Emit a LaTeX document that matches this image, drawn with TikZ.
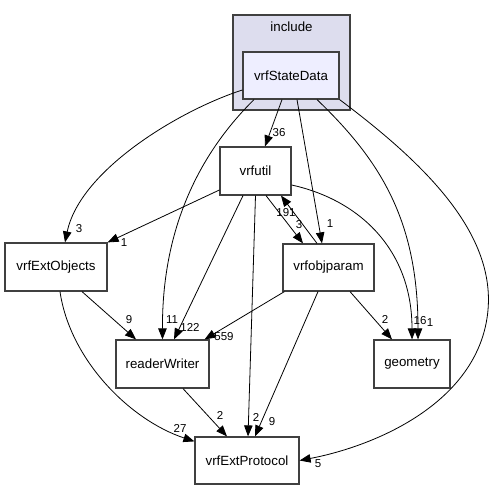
\documentclass[tikz,border=0pt]{standalone}
\usepackage{fontspec}
\setmainfont{Liberation Sans}
\usepackage{xcolor}
\usetikzlibrary{arrows.meta}
\definecolor{clusterfill}{HTML}{DDDDEE}
\definecolor{dirfill}{HTML}{EEEEFF}

\begin{document}
\begin{tikzpicture}[x=1pt,y=-1pt,
        dir/.style={draw=black!75,line width=1.2pt,fill=white,inner sep=0pt,font=\fontsize{13.3}{15}\selectfont},
        dep/.style={-{Triangle[length=11pt,width=8.5pt]},line width=0.8pt},
        lbl/.style={inner sep=0pt,font=\fontsize{11.5}{12}\selectfont}]
        \useasboundingbox (0,0) rectangle (495,489);

        % cluster include
        \node[dir,fill=clusterfill,minimum width=117pt,minimum height=95pt] (include) at (291.5,62.5) {};
        \node[font=\fontsize{13.3}{15}\selectfont] (inclabel) at (291.5,27) {include};
        \node[dir,fill=dirfill,minimum width=96pt,minimum height=47pt] (sd) at (291,75.5) {vrfStateData};

        % directories
        \node[dir,minimum width=71pt,minimum height=48pt] (util) at (255.5,171) {vrfutil};
        \node[dir,minimum width=91pt,minimum height=47pt] (objparam) at (328.5,267.5) {vrfobjparam};
        \node[dir,minimum width=102pt,minimum height=48pt] (extobj) at (56,267) {vrfExtObjects};
        \node[dir,minimum width=93pt,minimum height=48pt] (rw) at (162.5,364) {readerWriter};
        \node[dir,minimum width=76pt,minimum height=48pt] (geom) at (412,364) {geometry};
        \node[dir,minimum width=104pt,minimum height=47pt] (proto) at (247,460.5) {vrfExtProtocol};

        % from vrfStateData
        \draw[dep] ([xshift=-9pt]sd.south) -- ([xshift=9.5pt]util.north) node[lbl] at (279,133) {36};
        \draw[dep] ([yshift=-14.5pt]sd.west) .. controls (180,110) and (80,170) .. ([xshift=9pt]extobj.north) node[lbl] at (79,229) {3};
        \draw[dep] ([xshift=-37pt]sd.south) .. controls (198,155) and (162,230) .. (rw.north) node[lbl] at (172,320) {11};
        \draw[dep] ([xshift=6pt]sd.south) -- ([xshift=-6.5pt]objparam.north) node[lbl] at (330,224) {1};
        \draw[dep] ([xshift=26pt]sd.south) .. controls (380,160) and (418,220) .. ([xshift=6pt]geom.north) node[lbl] at (430,323) {1};
        \draw[dep] (sd.south east) .. controls (420,160) and (495,230) .. (488,310) .. controls (480,400) and (380,445) .. (proto.east) node[lbl] at (318,464) {5};

        % from vrfutil
        \draw[dep] ([yshift=-19pt]util.west) -- (extobj.north east) node[lbl] at (124,243) {1};
        \draw[dep] ([xshift=-12.5pt]util.south) -- ([xshift=11.5pt]rw.north) node[lbl] at (190,327) {122};
        \draw[dep] (util.south) -- ([xshift=1pt]proto.north) node[lbl] at (256,417) {2};
        \draw[dep] ([xshift=10.5pt]util.south) -- ([xshift=-25.5pt]objparam.north) node[lbl] at (299,225) {3};
        \draw[dep] ([yshift=-14pt]util.east) .. controls (360,200) and (412,250) .. (geom.north) node[lbl] at (420,321) {16};

        % from vrfobjparam
        \draw[dep] ([xshift=-11.5pt]objparam.north) -- ([xshift=25.5pt]util.south) node[lbl] at (286,213) {191};
        \draw[dep] ([xshift=2pt]objparam.south west) -- ([xshift=-5pt]rw.north east) node[lbl] at (224,337) {559};
        \draw[dep] ([xshift=21.5pt]objparam.south) -- ([xshift=-20pt]geom.north) node[lbl] at (385,319) {2};
        \draw[dep] ([xshift=-10.5pt]objparam.south) -- ([xshift=8pt]proto.north) node[lbl] at (272,422) {9};

        % from vrfExtObjects and readerWriter
        \draw[dep] ([xshift=26pt]extobj.south) -- ([xshift=-26.5pt]rw.north) node[lbl] at (129,320) {9};
        \draw[dep] ([xshift=4pt]extobj.south) .. controls (70,360) and (130,420) .. ([yshift=-5pt]proto.north west) node[lbl] at (180,428) {27};
        \draw[dep] ([xshift=20.5pt]rw.south) -- ([xshift=-20pt]proto.north) node[lbl] at (220,415) {2};
    \end{tikzpicture}
\end{document}
